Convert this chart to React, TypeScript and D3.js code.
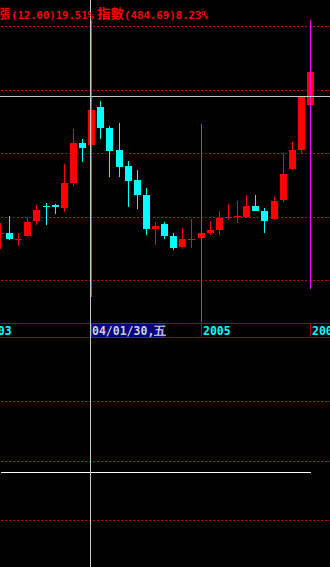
import React from "react";
import * as d3 from "d3";

// Monthly candles, March 2003 .. January 2006
const months = [
  "2003/03","2003/04","2003/05","2003/06","2003/07","2003/08","2003/09","2003/10","2003/11","2003/12",
  "2004/01","2004/02","2004/03","2004/04","2004/05","2004/06","2004/07","2004/08","2004/09","2004/10","2004/11","2004/12",
  "2005/01","2005/02","2005/03","2005/04","2005/05","2005/06","2005/07","2005/08","2005/09","2005/10","2005/11","2005/12",
  "2006/01",
];
const opens = [37.32,37.40,36.37,36.92,39.29,41.66,41.81,41.34,45.28,51.59,51.28,57.27,53.96,50.49,47.97,45.76,43.39,38.03,38.82,36.92,35.19,36.37,36.61,37.40,37.87,39.84,40.00,39.92,41.66,40.87,39.61,42.60,47.49,50.49,57.59];
const highs = [38.97,40.08,37.40,39.92,41.81,42.13,41.97,48.28,53.80,52.22,57.74,58.22,54.27,54.75,48.75,47.33,44.50,39.13,39.13,37.40,38.19,39.61,37.40,39.13,40.87,41.97,42.44,43.39,43.39,41.34,43.08,50.02,51.75,59.01,63.11];
const lows = [34.87,36.29,35.35,36.77,38.66,38.66,40.39,40.71,44.81,48.60,50.80,52.22,46.23,46.23,41.50,41.18,37.08,35.50,36.45,34.72,34.87,35.03,36.61,37.08,37.08,39.45,38.97,39.76,41.02,37.40,39.45,42.29,47.33,50.02,57.43];
const closes = [37.40,36.45,36.53,39.13,41.02,41.50,41.50,45.28,51.59,50.80,56.80,53.96,50.33,47.81,45.60,43.39,38.03,38.50,36.92,35.03,36.45,36.53,37.40,37.87,39.76,40.00,40.16,41.66,40.87,39.29,42.44,46.70,50.49,58.85,62.79];

// price grid levels (upper panel) and indicator grid (lower panel)
const priceGrid = [70, 60, 50, 40, 30];
const lowerGrid = [75, 50, 25];
const lowerLineValue = 45.2;

// year labels (January positions, index relative to first month)
const yearLabels = ["2003", "2004", "2005", "2006"];
const yearMonthIndex = [-2, 10, 22, 34];
// vertical marker lines at year starts (price extents)
const markerTop = [70.99, 54.61, 70.99];
const markerBottom = [27.37, 23.43, 28.63];
const markerIndex = [10, 22, 34];

const crosshairIndex = 10;
const crosshairPrice = 59.02;
const crosshairLabel = "04/01/30,五";

const titleParts = ["漲", "(12.00)19.51%", "指數", "(484.69)8.23%"];

const W = 330;
const H = 567;

export default function App() {
  const x = d3.scaleLinear().domain([0, 34]).range([0.5, 310.5]);
  const y = d3.scaleLinear().domain([30, 70]).range([280.3, 26.3]);
  const yl = d3.scaleLinear().domain([25, 75]).range([520.3, 401.3]);

  const px = (i: number) => Math.floor(x(i)) + 0.5;
  const mono = "'DejaVu Sans Mono', 'Liberation Mono', monospace";
  const cjk = "'Noto Sans CJK TC', 'Noto Sans CJK SC', sans-serif";
  const gridColor = "#f00000";
  const axisRed = "#a00000";

  return (
    <svg
      width={W}
      height={H}
      style={{ position: "absolute", left: 0, top: 0, display: "block", background: "#000" }}
    >
      <rect x={0} y={0} width={W} height={H} fill="#000" />
      {/* dotted grids */}
      <g>
        {priceGrid.map((v) => (
          <line key={"pg" + v} x1={1} x2={W} y1={Math.round(y(v)) + 0.5} y2={Math.round(y(v)) + 0.5}
            stroke={gridColor} strokeWidth={1.2} strokeDasharray="1.5,2.5" />
        ))}
        {lowerGrid.map((v) => (
          <line key={"lg" + v} x1={1} x2={W} y1={Math.round(yl(v)) + 0.5} y2={Math.round(yl(v)) + 0.5}
            stroke={gridColor} strokeWidth={1.2} strokeDasharray="1.5,2.5" />
        ))}
      </g>

      {/* candles */}
      <g shapeRendering="crispEdges">
        {months.map((m, i) => {
          const o = opens[i], c = closes[i], h = highs[i], l = lows[i];
          const up = c >= o;
          const col = up ? "#ff0000" : "#00ffff";
          const yTop = y(Math.max(o, c));
          const yBot = y(Math.min(o, c));
          const bh = Math.max(1, Math.round(yBot - yTop));
          const xc = px(i);
          return (
            <g key={m}>
              <line x1={xc} x2={xc} y1={Math.round(y(h))} y2={Math.round(y(l))} stroke={col} strokeWidth={1} />
              <rect x={Math.floor(x(i)) - 3} y={Math.round(yTop)} width={7} height={bh} fill={col} />
            </g>
          );
        })}
      </g>

      {/* magenta year markers */}
      <g shapeRendering="crispEdges">
        {markerIndex.map((idx, k) => (
          <line key={"mk" + k} x1={px(idx)} x2={px(idx)} y1={Math.round(y(markerTop[k]))} y2={Math.round(y(markerBottom[k]))}
            stroke="#ff00ff" strokeWidth={1} />
        ))}
      </g>

      {/* lower panel indicator line */}
      <line x1={x(0)} x2={x(34)} y1={Math.round(yl(lowerLineValue)) + 0.5} y2={Math.round(yl(lowerLineValue)) + 0.5}
        stroke="#ffffff" strokeWidth={1} shapeRendering="crispEdges" />

      {/* x axis strip */}
      <g shapeRendering="crispEdges">
        <line x1={0} x2={W} y1={323.5} y2={323.5} stroke={axisRed} />
        <line x1={0} x2={W} y1={337.5} y2={337.5} stroke={axisRed} />
        {yearMonthIndex.map((idx, k) => (
          <line key={"ys" + k} x1={px(idx)} x2={px(idx)} y1={323.5} y2={337.5} stroke={axisRed} />
        ))}
        {yearLabels.map((lab, k) =>
          yearMonthIndex[k] === crosshairIndex ? null : (
            <text key={"yl" + k} x={Math.floor(x(yearMonthIndex[k])) + 2} y={334.5} fill="#00ffff"
              fontFamily={mono} fontWeight="bold" fontSize={11.5}>
              {lab}
            </text>
          )
        )}
        <rect x={Math.floor(x(crosshairIndex)) + 0.5} y={323.5} width={72} height={14} fill="#000080" stroke="#c00000" />
        <text x={Math.floor(x(crosshairIndex)) + 1} y={334.5} fill="#d0d0d0" fontFamily={mono} fontWeight="bold" fontSize={11.5}>
          {crosshairLabel}
        </text>
      </g>

      {/* crosshair */}
      <g shapeRendering="crispEdges">
        <line x1={px(crosshairIndex) - 1} x2={px(crosshairIndex) - 1} y1={0} y2={H} stroke="#c8c8c8" />
        <line x1={0} x2={W} y1={Math.round(y(crosshairPrice)) + 0.5} y2={Math.round(y(crosshairPrice)) + 0.5} stroke="#c8c8c8" />
      </g>

      {/* title */}
      <g fill="#ff0000" fontWeight="bold">
        <text x={-3} y={18} fontFamily={cjk} fontSize={13}>{titleParts[0]}</text>
        <text x={11} y={18.5} fontFamily={mono} fontSize={11} textLength={83} lengthAdjust="spacingAndGlyphs">{titleParts[1]}</text>
        <text x={97} y={18} fontFamily={cjk} fontSize={13} textLength={27} lengthAdjust="spacingAndGlyphs">{titleParts[2]}</text>
        <text x={124} y={18.5} fontFamily={mono} fontSize={11} textLength={84} lengthAdjust="spacingAndGlyphs">{titleParts[3]}</text>
      </g>
    </svg>
  );
}
